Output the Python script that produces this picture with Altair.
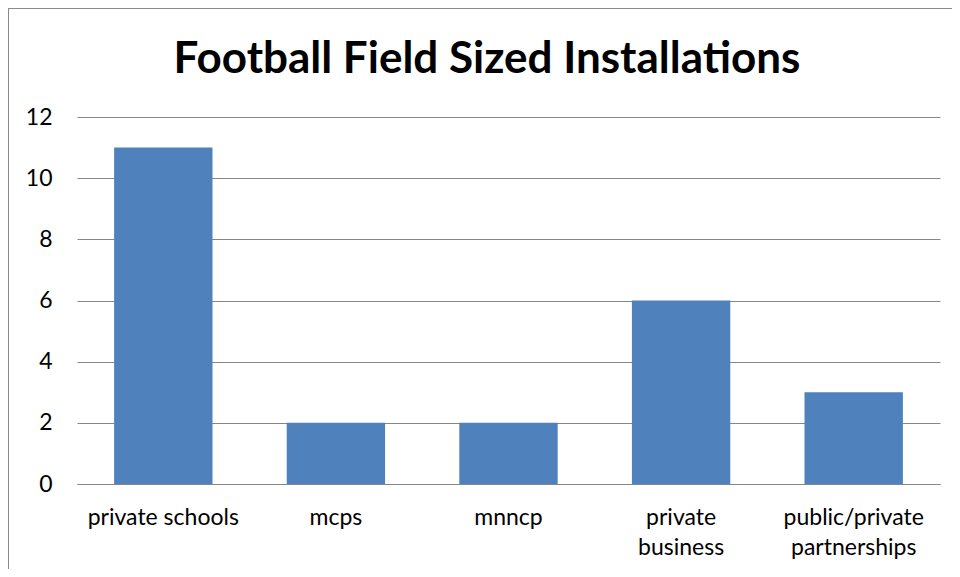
import altair as alt
import pandas as pd

categories = ["private schools", "mcps", "mnncp", "private business", "public/private partnerships"]
values = [11, 2, 2, 6, 3]
title_text = ["Football Field Sized Installations"]

df = pd.DataFrame({"category": categories, "value": values})
title_df = pd.DataFrame({"title": title_text})

FONT = "Lato"

label_expr = (
    "datum.value == 'private business' ? ['private', 'business'] : "
    "datum.value == 'public/private partnerships' ? ['public/private', 'partnerships'] : datum.value"
)

bars = alt.Chart(df).mark_bar(color="#4F81BD").encode(
    x=alt.X(
        "category:N",
        sort=categories,
        title=None,
        scale=alt.Scale(paddingInner=0.43, paddingOuter=0.215),
        axis=alt.Axis(
            labelAngle=0, labelExpr=label_expr, labelFontSize=23, labelFont=FONT,
            labelColor="#000000", labelPadding=22, labelLineHeight=30, grid=False,
            ticks=False, domainColor="#868686", domainWidth=1, labelBaseline="top",
        ),
    ),
    y=alt.Y(
        "value:Q",
        title=None,
        scale=alt.Scale(domain=[0, 12]),
        axis=alt.Axis(
            values=[0, 2, 4, 6, 8, 10, 12], labelFontSize=23, labelFont=FONT,
            labelColor="#000000", labelPadding=25, ticks=False, domain=False,
            gridColor="#868686", gridWidth=1,
        ),
    ),
)

title = alt.Chart(title_df).mark_text(
    font=FONT, fontSize=44, fontWeight="bold", color="#000000",
    align="center", baseline="alphabetic",
).encode(text="title:N", x=alt.value(410), y=alt.value(-44))

frame_top = alt.Chart(title_df).mark_rule(color="#8a8a8a", strokeWidth=2).encode(
    x=alt.value(-69), x2=alt.value(900), y=alt.value(-109)
)
frame_left = alt.Chart(title_df).mark_rule(color="#8a8a8a", strokeWidth=2).encode(
    x=alt.value(-69), y=alt.value(-110), y2=alt.value(470)
)

chart = (
    alt.layer(bars, title, frame_top, frame_left)
    .properties(
        width=863,
        height=367,
        autosize=alt.AutoSizeParams(type="none"),
        padding={"left": 69, "top": 109, "right": 12, "bottom": 85},
        view=alt.ViewConfig(stroke="transparent", strokeWidth=0),
    )
    .configure_view(stroke="transparent", strokeWidth=0)
    .configure(background="white")
)

chart.save("out.html", embed_options={"renderer": "svg", "actions": False})
